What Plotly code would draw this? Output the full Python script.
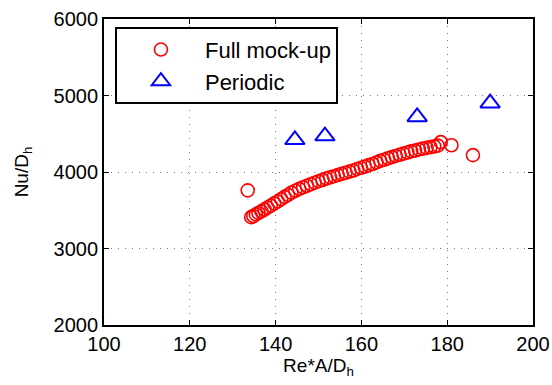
import plotly.graph_objects as go

# Full mock-up data (Re*A/Dh, Nu/Dh)
full_x = [133.5, 134.3, 134.8, 135.4, 136.0, 136.7, 137.4, 138.1, 138.9, 139.7, 140.5,
          141.3, 142.1, 142.9, 143.7, 144.6, 145.5, 146.4, 147.3, 148.2, 149.1,
          150.0, 150.9, 151.8, 152.7, 153.6, 154.5, 155.4, 156.3, 157.2, 158.1,
          159.0, 159.9, 160.8, 161.7, 162.6, 163.5, 164.4, 165.3, 166.2, 167.1,
          168.0, 168.9, 169.8, 170.7, 171.6, 172.5, 173.4, 174.3, 175.2, 176.1,
          177.0, 177.8, 178.5, 181.0, 186.0]
full_y = [3760, 3410, 3425, 3445, 3465, 3485, 3510, 3535, 3560, 3590, 3615,
          3645, 3675, 3700, 3730, 3755, 3780, 3800, 3820, 3840, 3860,
          3880, 3895, 3915, 3930, 3945, 3960, 3975, 3990, 4005, 4020,
          4040, 4055, 4070, 4090, 4105, 4125, 4145, 4160, 4180, 4195,
          4210, 4225, 4240, 4255, 4270, 4280, 4295, 4305, 4315, 4325,
          4335, 4345, 4390, 4350, 4220]

# Periodic data
per_x = [144.5, 151.5, 173.0, 190.0]
per_y = [4420, 4470, 4720, 4900]

x_ticks = [100, 120, 140, 160, 180, 200]
y_ticks = [2000, 3000, 4000, 5000, 6000]

FONT = "Liberation Sans, Arial, Helvetica, sans-serif"

fig = go.Figure()
fig.add_trace(go.Scatter(
    x=full_x, y=full_y, mode="markers", name="Full mock-up",
    marker=dict(symbol="circle-open", size=13, color="#ff0000",
                line=dict(width=1.6, color="#ff0000")),
))
fig.add_trace(go.Scatter(
    x=per_x, y=per_y, mode="markers", name="Periodic",
    marker=dict(symbol="triangle-up-open", size=17, color="#0000ff",
                line=dict(width=2, color="#0000ff")),
))

axis_common = dict(
    showline=True, linecolor="black", linewidth=1.8, mirror="ticks",
    ticks="inside", ticklen=5, tickwidth=1, tickcolor="black",
    showgrid=True, gridcolor="#777777", griddash="1px,6px", gridwidth=1.2,
    zeroline=False, automargin=False,
    tickfont=dict(family=FONT, size=20, color="black"),
)

fig.update_layout(
    width=552, height=385,
    margin=dict(l=104, r=19, t=19, b=60, autoexpand=False),
    paper_bgcolor="white", plot_bgcolor="white",
    font=dict(family=FONT, size=20, color="black"),
    xaxis=dict(range=[100, 200], tickvals=x_ticks,
               title=dict(text="Re*A/D<sub>h</sub>", standoff=4,
                          font=dict(family=FONT, size=19)),
               **axis_common),
    yaxis=dict(range=[2000, 6000], tickvals=y_ticks,
               title=dict(text="Nu/D<sub>h</sub>", standoff=20,
                          font=dict(family=FONT, size=19)),
               **axis_common),
    legend=dict(x=0.026, y=0.974, xanchor="left", yanchor="top",
                bordercolor="black", borderwidth=1.8, bgcolor="white",
                font=dict(family=FONT, size=22), itemwidth=78,
                tracegroupgap=0),
    showlegend=True,
)

fig.write_html("out.html",
               config={"displayModeBar": False},
               post_script="document.body.style.margin='0px';document.body.style.overflow='hidden';")
